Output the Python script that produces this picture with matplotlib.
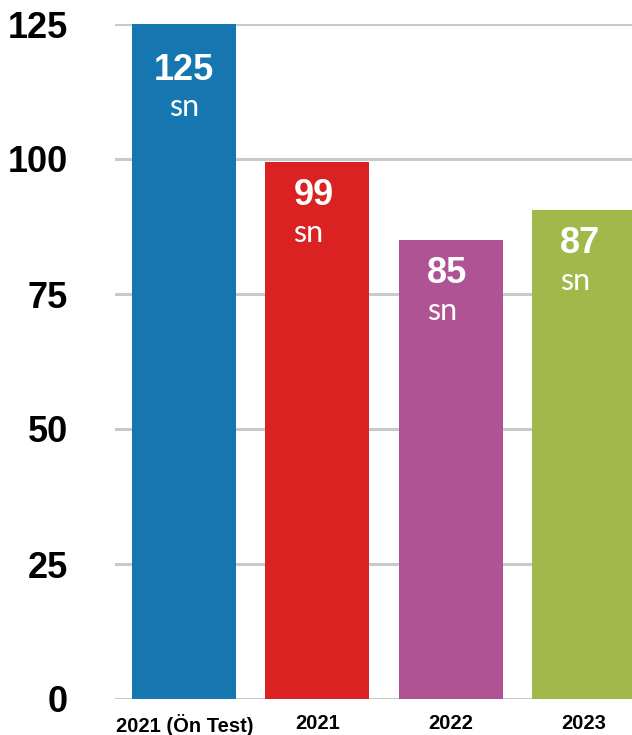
import numpy as np
import matplotlib.pyplot as plt

categories = ["2021 (Ön Test)", "2021", "2022", "2023"]
# bar heights as drawn in the picture, and the numbers printed on the bars
bar_heights = [125, 99.5, 85, 90.5]
bar_labels = ["125", "99", "85", "87"]
unit = "sn"
colors = ["#1677b0", "#da2222", "#b05394", "#a3b84a"]
yticks = [0, 25, 50, 75, 100, 125]

px = 72 / 100  # points per pixel at dpi 100

fig = plt.figure(figsize=(6.32, 7.35), dpi=100)
ax = fig.add_axes([115 / 632, 1 - 699 / 735, 517 / 632, 675 / 735])

x = np.arange(len(categories))
width = 0.78
bars = ax.bar(x, bar_heights, width=width, color=colors, zorder=2)

ax.set_xlim(-0.52, 3.362)
ax.set_ylim(0, 125)
ax.set_yticks(yticks)
ax.set_yticklabels([str(t) for t in yticks], fontsize=26, fontweight="bold",
                   family="Liberation Sans")
ax.set_xticks(x)
ax.set_xticklabels(categories, fontsize=14.5, fontweight="bold", family="Liberation Sans")
ax.tick_params(axis="y", length=0, pad=47 * px)
ax.tick_params(axis="x", length=0, pad=11)
for s in ax.spines.values():
    s.set_visible(False)
ax.grid(axis="y", color="#c6cacd", linewidth=2.2, zorder=1)
ax.set_axisbelow(True)

for i, (b, lab) in enumerate(zip(bars, bar_labels)):
    top = b.get_height()
    if i == 0:
        xa, ha, dx = b.get_x() + b.get_width() / 2, "center", 0
        num_dy, sn_dy = 56, 92
    else:
        xa, ha, dx = b.get_x(), "left", 28
        num_dy, sn_dy = 43, 80
    ax.annotate(lab, (xa, top), xytext=(dx * px, -num_dy * px), textcoords="offset points",
                ha=ha, va="baseline", color="white", fontsize=26, fontweight="bold",
                family="Liberation Sans")
    ax.annotate(unit, (xa, top), xytext=(dx * px, -sn_dy * px), textcoords="offset points",
                ha=ha, va="baseline", color="white", fontsize=22, family="Lato")

fig.savefig("out.png", dpi=100)
